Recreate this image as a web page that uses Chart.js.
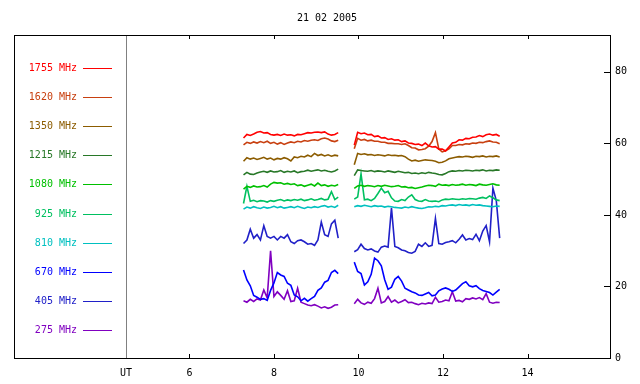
<!DOCTYPE html>
<html>
<head>
<meta charset="utf-8">
<script src="https://cdn.jsdelivr.net/npm/chart.js@4.4.0/dist/chart.umd.min.js"></script>
<style>
  html, body { margin: 0; background: #fff; }
</style>
</head>
<body>
<canvas id="chart" width="640" height="384"></canvas>
<script>
// time axis (UT hours), two observing segments
const hoursA = [7.28,7.36,7.44,7.52,7.60,7.68,7.76,7.84,7.92,8.00,8.08,8.16,8.24,8.32,8.40,8.48,8.56,8.64,8.72,8.80,8.88,8.96,9.04,9.12,9.20,9.28,9.36,9.44,9.52];
const hoursB = [9.90,9.98,10.06,10.14,10.22,10.30,10.38,10.46,10.54,10.62,10.70,10.78,10.86,10.94,11.02,11.10,11.18,11.26,11.34,11.42,11.50,11.58,11.66,11.74,11.82,11.90,11.98,12.06,12.14,12.22,12.30,12.38,12.46,12.54,12.62,12.70,12.78,12.86,12.94,13.02,13.10,13.18,13.26,13.34];

const xTicks = [4.5, 6, 8, 10, 12, 14];
const yTicks = [0, 20, 40, 60, 80];

const labels = ['1755 MHz','1620 MHz','1350 MHz','1215 MHz','1080 MHz','925 MHz','810 MHz','670 MHz','405 MHz','275 MHz'];
const colors = ['#ff0000','#c84010','#8c5c00','#287828','#00c000','#00c060','#00c0c0','#0000ff','#2020c8','#8000c0'];

const f1755a = [61.5,62.5,62.2,62.6,63.1,63.3,62.9,63.0,62.5,62.3,62.5,62.2,62.6,62.3,62.4,62.1,62.5,62.4,62.7,63.0,62.9,63.1,63.2,63.0,63.2,62.6,62.3,62.5,63.0];
const f1755b = [59.5,63.1,62.7,62.9,62.4,62.5,61.9,62.1,61.5,61.6,61.1,61.3,60.9,61.0,60.5,60.7,60.1,60.0,59.7,59.8,59.4,60.1,59.3,59.0,59.1,58.4,58.4,57.9,59.0,60.1,60.3,61.0,60.9,61.4,61.3,61.7,61.8,62.2,61.9,62.4,62.6,62.3,62.5,62.0];

const f1620a = [59.6,60.3,60.0,60.4,60.1,60.5,60.2,60.6,60.0,60.3,59.8,60.2,59.7,60.1,60.4,60.2,60.6,60.4,60.8,60.6,60.9,61.0,60.8,61.3,61.5,61.2,60.7,60.5,60.9];
const f1620b = [58.5,61.4,60.9,61.1,60.7,60.9,60.6,60.6,60.3,60.3,60.0,60.0,59.9,59.9,59.7,59.9,59.4,58.8,58.7,58.2,58.3,58.5,59.2,60.5,63.0,58.4,57.6,57.9,58.5,59.4,59.4,59.7,59.6,59.9,59.8,60.1,60.0,60.3,60.2,60.5,60.7,60.4,60.3,59.9];

const f1350a = [55.0,56.0,55.6,55.9,55.5,55.8,56.1,55.6,55.9,55.4,55.8,55.6,56.0,55.7,55.1,56.2,56.0,56.4,56.2,56.7,56.3,57.2,56.6,56.9,56.5,56.8,56.4,56.7,56.5];
const f1350b = [54.0,57.2,56.9,57.1,56.8,56.9,56.6,56.8,56.7,56.5,56.8,56.6,56.7,56.5,56.6,56.3,55.6,55.1,55.3,55.0,55.2,55.4,55.3,55.2,55.0,54.6,54.7,55.1,55.7,55.9,56.1,56.3,56.2,56.4,56.3,56.1,56.4,56.3,56.5,56.2,56.4,56.3,56.5,56.2];

const f1215a = [51.2,51.9,51.4,51.3,51.7,52.0,52.2,51.9,52.3,52.0,52.1,52.4,51.9,52.2,52.0,52.3,51.8,52.1,52.2,52.5,52.2,52.4,52.6,52.3,52.5,52.2,52.0,52.3,52.8];
const f1215b = [51.0,52.6,52.4,52.3,52.2,52.4,52.1,52.3,52.2,52.0,52.3,52.1,51.9,52.2,52.0,51.8,51.9,51.6,51.7,51.5,51.8,51.6,51.9,51.7,51.6,51.3,51.2,51.6,52.1,52.3,52.2,52.4,52.3,52.5,52.4,52.3,52.5,52.4,52.6,52.3,52.5,52.4,52.6,52.5];

const f1080a = [47.2,48.0,47.7,48.1,47.8,47.9,48.2,47.8,48.6,49.1,48.9,49.0,48.6,48.8,48.5,48.7,48.2,48.4,48.0,48.3,48.6,48.1,48.9,48.2,48.4,48.0,48.3,48.1,48.5];
const f1080b = [47.4,48.1,48.3,48.0,48.2,48.1,47.9,48.2,48.0,48.3,48.1,47.9,48.0,48.2,47.8,47.9,47.6,47.7,47.4,47.6,47.8,48.1,48.3,48.2,48.0,48.6,48.3,48.4,48.2,48.5,48.3,48.4,48.6,48.3,48.5,48.4,48.2,48.6,48.4,48.3,48.5,48.7,48.4,48.3];

const f925a = [43.2,48.0,43.8,44.1,43.7,44.0,43.9,43.6,44.0,43.8,44.1,44.3,43.9,44.2,44.0,44.3,44.1,44.4,44.0,44.2,44.5,44.1,44.3,44.6,44.2,44.4,46.5,44.3,45.0];
const f925b = [44.4,45.0,51.5,44.2,44.4,44.0,44.6,46.0,47.5,46.2,46.6,44.8,43.9,43.8,44.3,44.0,45.0,45.6,44.3,43.9,43.8,44.3,43.9,43.8,43.9,43.7,44.2,44.4,44.3,44.5,44.4,44.3,44.5,44.4,44.6,44.5,44.4,44.7,44.9,44.6,45.3,44.8,44.2,44.0];

const f810a = [41.6,42.2,41.9,42.3,42.0,41.8,42.2,41.9,42.1,42.4,42.0,42.3,41.9,42.1,42.3,42.0,42.4,42.1,41.8,42.2,42.0,42.3,42.1,42.4,42.6,42.2,42.4,42.1,42.7];
const f810b = [42.3,42.6,42.4,42.7,42.5,42.3,42.6,42.4,42.5,42.2,42.4,42.3,42.1,42.0,41.9,42.2,42.0,42.3,42.1,41.9,41.8,42.0,42.3,42.2,42.4,42.3,42.6,42.5,42.7,42.8,42.6,42.9,42.7,42.8,42.6,42.9,42.7,42.8,42.6,42.5,42.4,42.3,42.5,42.4];

const f670a = [24.6,21.8,20.2,17.5,17.0,16.4,16.6,16.1,18.9,21.0,23.9,23.2,22.8,20.9,20.3,17.6,17.1,16.0,16.7,15.9,16.6,17.2,18.9,19.6,21.2,21.7,23.9,24.5,23.6];
const f670b = [26.8,24.2,23.6,20.4,21.3,23.4,27.9,27.2,25.8,21.9,19.2,19.8,22.0,22.8,21.5,19.5,19.0,18.5,18.2,17.6,17.5,17.9,18.3,17.4,17.6,18.8,19.3,19.6,19.2,18.6,19.0,19.9,20.8,21.3,20.2,19.9,20.2,19.4,18.9,18.6,18.3,17.6,18.4,19.2];

const f405a = [32,33,36,33.5,34.5,33,37,34,33.5,34,33,34,33.5,34.5,32.5,32,32.8,33,32.5,31.8,32,31.5,33,38,34.5,34,37.5,38.5,33.5];
const f405b = [29.7,30.3,31.8,30.6,30.2,30.5,29.9,29.6,31.0,31.3,31.0,42.0,31.2,30.8,30.2,30.0,29.5,29.3,29.8,31.8,31.2,32.2,31.2,31.5,39.0,32.0,31.8,32.3,32.5,32.8,32.2,33.2,34.4,33.0,33.4,33.1,34.6,32.8,35.5,37.0,32.5,47.5,44.0,33.5];

const f275a = [16,15.6,16.4,15.8,16.5,16.2,19,16.8,30,17.2,18.5,17.5,16.4,18.8,15.8,16,19.5,15.6,15.2,14.8,14.6,14.9,14.5,14,14.3,13.9,14.2,14.8,14.9];
const f275b = [15.2,16.4,15.4,15.0,15.6,15.3,16.6,19.5,15.4,15.8,17.2,15.6,16.2,15.4,15.8,16.3,15.5,15.6,15.2,14.9,15.3,15.1,15.4,15.2,17.0,15.6,15.8,16.2,16.0,18.5,15.9,16.1,15.7,16.6,16.4,16.8,16.5,16.9,16.3,18.0,15.6,15.3,15.6,15.5];

const seriesA = [f1755a,f1620a,f1350a,f1215a,f1080a,f925a,f810a,f670a,f405a,f275a];
const seriesB = [f1755b,f1620b,f1350b,f1215b,f1080b,f925b,f810b,f670b,f405b,f275b];

const font = { family: 'DejaVu Sans Mono', size: 10, weight: 'normal' };

function toPoints(a, b) {
  const pts = a.map((v, i) => ({ x: hoursA[i], y: v }));
  pts.push({ x: 9.7, y: null });
  return pts.concat(b.map((v, i) => ({ x: hoursB[i], y: v })));
}

const datasets = labels.map((l, i) => ({
  label: l,
  data: toPoints(seriesA[i], seriesB[i]),
  borderColor: colors[i],
  borderWidth: 1.6,
  pointRadius: 0,
  tension: 0,
  spanGaps: false
}));

// frame, inward ticks, UT line and the legend inside the plot
const framePlugin = {
  id: 'frame',
  afterDraw(chart) {
    const { ctx, chartArea: a, scales } = chart;
    const x = scales.x, y = scales.y;
    ctx.save();
    ctx.lineWidth = 1;
    ctx.strokeStyle = '#808080';
    const ux = Math.round(x.getPixelForValue(4.5)) + 0.5;
    ctx.beginPath(); ctx.moveTo(ux, a.top); ctx.lineTo(ux, a.bottom); ctx.stroke();

    ctx.strokeStyle = '#000';
    ctx.strokeRect(Math.round(a.left) + 0.5, Math.round(a.top) + 0.5,
                   Math.round(a.right - a.left), Math.round(a.bottom - a.top));
    ctx.beginPath();
    xTicks.slice(1).forEach(v => {
      const px = Math.round(x.getPixelForValue(v)) + 0.5;
      ctx.moveTo(px, a.bottom); ctx.lineTo(px, a.bottom - 4);
      ctx.moveTo(px, a.top); ctx.lineTo(px, a.top + 4);
    });
    yTicks.slice(1).forEach(v => {
      const py = Math.round(y.getPixelForValue(v)) + 0.5;
      ctx.moveTo(a.right, py); ctx.lineTo(a.right - 6, py);
    });
    ctx.stroke();

    ctx.font = '10px "DejaVu Sans Mono"';
    ctx.textAlign = 'right';
    ctx.textBaseline = 'middle';
    labels.forEach((l, i) => {
      const ly = Math.round(68 + i * 29.1) + 0.5;
      ctx.fillStyle = colors[i];
      ctx.fillText(l, 77, ly);
      ctx.strokeStyle = colors[i];
      ctx.beginPath(); ctx.moveTo(83, ly); ctx.lineTo(112, ly); ctx.stroke();
    });
    ctx.restore();
  }
};

new Chart(document.getElementById('chart'), {
  type: 'line',
  data: { datasets },
  plugins: [framePlugin],
  options: {
    responsive: false,
    animation: false,
    layout: { padding: { left: 14, right: 0, top: 0, bottom: 0 } },
    plugins: {
      legend: { display: false },
      tooltip: { enabled: false },
      title: {
        display: true,
        text: '21 02 2005',
        color: '#000',
        font: font,
        padding: { top: 12, bottom: 11 }
      }
    },
    scales: {
      x: {
        type: 'linear',
        min: 1.85,
        max: 15.95,
        afterBuildTicks: s => { s.ticks = xTicks.map(v => ({ value: v })); },
        afterFit: s => { s.height = 26; },
        grid: { display: false, drawTicks: false },
        border: { display: false },
        ticks: {
          color: '#000',
          font: font,
          padding: 9,
          maxRotation: 0,
          autoSkip: false,
          callback: v => v === 4.5 ? 'UT' : v
        }
      },
      y: {
        position: 'right',
        min: 0,
        max: 90.3,
        afterBuildTicks: s => { s.ticks = yTicks.map(v => ({ value: v })); },
        afterFit: s => { s.width = 30; },
        grid: { display: false, drawTicks: false },
        border: { display: false },
        ticks: { color: '#000', font: font, padding: 5 }
      }
    }
  }
});
</script>
</body>
</html>
